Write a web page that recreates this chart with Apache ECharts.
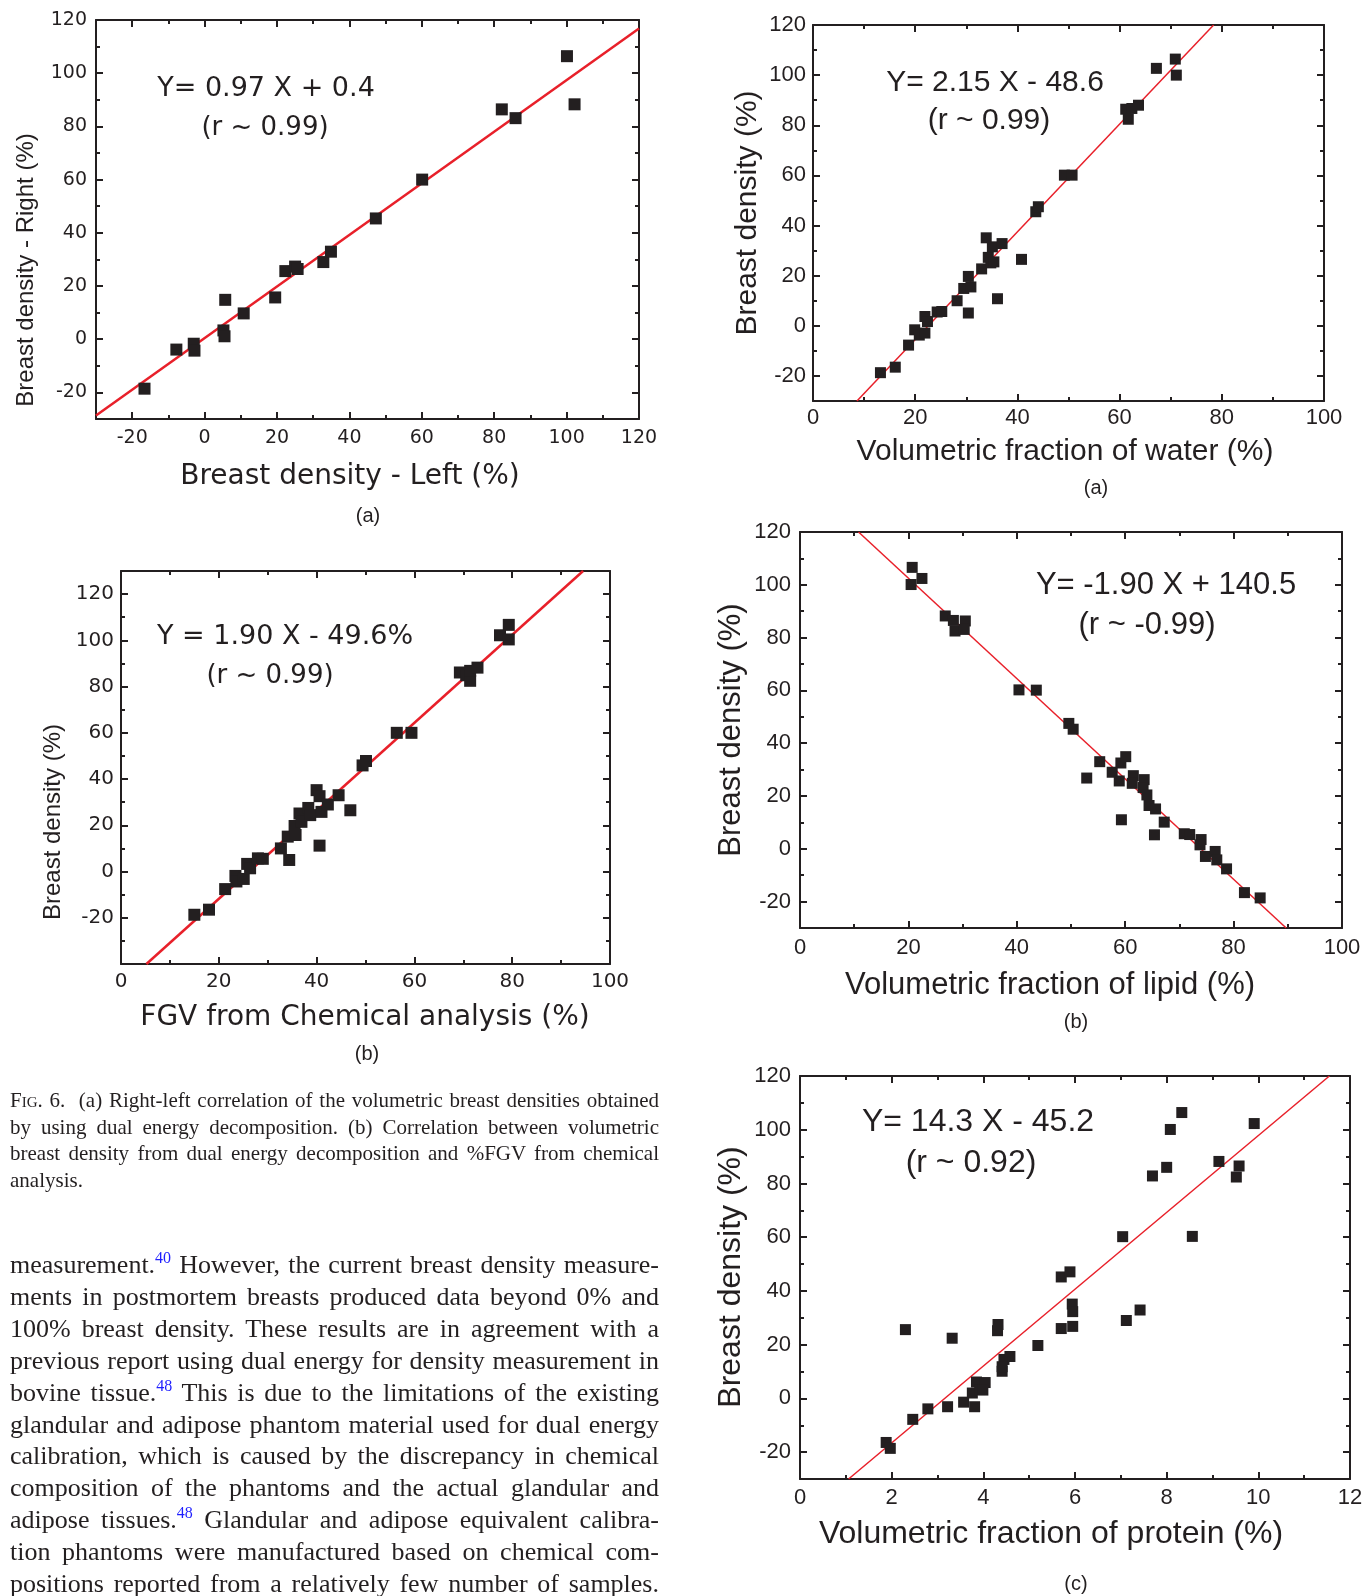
<!DOCTYPE html>
<html>
<head>
<meta charset="utf-8">
<script src="https://cdn.jsdelivr.net/npm/echarts@6/dist/echarts.min.js"></script>
<style>
  html, body { margin: 0; padding: 0; background: #fff; }
  #page { position: relative; width: 1362px; height: 1596px; overflow: hidden; }
  #chart { position: absolute; left: 0; top: 0; width: 1362px; height: 1596px; }
  .txt { position: absolute; left: 10px; width: 649px; color: #231f20; font-family: 'Liberation Serif', 'Times New Roman', serif; }
  .txt div { text-align: justify; text-align-last: justify; }
  .txt div.end { text-align-last: left; }
  #caption { top: 1087px; font-size: 21px; line-height: 26.7px; }
  #body { top: 1249px; font-size: 26px; line-height: 31.9px; }
  .sc { font-variant: small-caps; }
  sup { color: #1f1fff; font-size: 16px; line-height: 0; vertical-align: 0.6em; }
</style>
</head>
<body>
<div id="page">
  <div id="chart"></div>
  <div class="txt" id="caption">
    <div>F<span class="sc">ig</span>. 6.&nbsp; (a) Right-left correlation of the volumetric breast densities obtained</div>
    <div>by using dual energy decomposition. (b) Correlation between volumetric</div>
    <div>breast density from dual energy decomposition and %FGV from chemical</div>
    <div class="end">analysis.</div>
  </div>
  <div class="txt" id="body">
    <div>measurement.<sup>40</sup> However, the current breast density measure-</div>
    <div>ments in postmortem breasts produced data beyond 0% and</div>
    <div>100% breast density. These results are in agreement with a</div>
    <div>previous report using dual energy for density measurement in</div>
    <div>bovine tissue.<sup>48</sup> This is due to the limitations of the existing</div>
    <div>glandular and adipose phantom material used for dual energy</div>
    <div>calibration, which is caused by the discrepancy in chemical</div>
    <div>composition of the phantoms and the actual glandular and</div>
    <div>adipose tissues.<sup>48</sup> Glandular and adipose equivalent calibra-</div>
    <div>tion phantoms were manufactured based on chemical com-</div>
    <div>positions reported from a relatively few number of samples.</div>
  </div>
</div>
<script>
// ---- data ----

// (a) left : right / left breast density
var leftDensity  = [-16.6, -7.8, -3.0, -2.8, 5.2, 5.5, 5.7, 10.8, 19.5, 22.3, 25.0, 25.7, 32.8, 34.9, 47.3, 60.1, 82.1, 85.9, 100.1, 102.2];
var rightDensity = [-18.6, -3.9, -1.7, -4.3, 3.3, 1.1, 14.8, 9.7, 15.7, 25.6, 27.3, 26.4, 29.0, 32.9, 45.4, 60.0, 86.4, 83.1, 106.4, 88.3];
var fitLeft = [[-30, -28.7], [120, 116.8]];

// (b) left : FGV from chemical analysis
var fgvChem    = [15.0, 18.0, 21.3, 23.4, 23.6, 25.1, 25.8, 26.4, 28.0, 29.0, 32.7, 34.1, 35.5, 35.7, 34.4, 36.5, 36.9, 38.3, 38.7, 40.0, 40.6, 41.0, 42.3, 40.6, 44.5, 46.9, 49.4, 50.1, 56.4, 59.4, 69.3, 70.6, 71.4, 71.4, 72.9, 77.5, 79.3, 79.3];
var fgvDensity = [-18.7, -16.5, -7.6, -1.9, -4.3, -3.2, 3.3, 1.4, 5.7, 5.5, 10.0, 15.1, 19.7, 15.8, 5.0, 25.1, 21.5, 27.5, 24.4, 35.2, 32.6, 25.8, 29.0, 11.2, 33.0, 26.5, 45.9, 47.8, 60.0, 60.0, 86.1, 84.9, 82.5, 86.8, 88.2, 102.2, 106.7, 100.4];
var fitFgv = [[5.2, -40], [94.5, 130]];

// (a) right : water
var waterFrac    = [13.2, 16.1, 18.7, 19.9, 20.8, 21.9, 21.9, 22.4, 24.3, 25.2, 28.2, 29.5, 30.4, 30.9, 30.4, 33.0, 33.9, 34.3, 34.8, 35.1, 35.4, 36.1, 37.0, 40.8, 43.6, 44.1, 49.2, 50.7, 61.2, 61.7, 62.4, 63.7, 67.2, 70.9, 71.1];
var waterDensity = [-18.7, -16.5, -7.7, -1.6, -3.7, -2.9, 3.7, 1.7, 5.5, 5.7, 10.0, 14.9, 19.7, 15.5, 5.1, 22.7, 35.1, 27.3, 25.1, 31.5, 25.5, 10.8, 32.8, 26.5, 45.5, 47.5, 60.1, 60.1, 86.4, 82.4, 86.7, 88.0, 102.7, 106.4, 100.0];
var fitWater = [[8.6, -30], [78.4, 120]];

// (b) right : lipid
var lipidFrac    = [20.7, 20.5, 22.5, 26.8, 28.3, 28.6, 30.5, 30.3, 40.4, 43.6, 49.6, 50.4, 52.9, 55.3, 57.6, 58.9, 59.2, 60.1, 59.3, 61.5, 61.3, 63.5, 63.3, 64.0, 64.4, 65.6, 65.4, 67.2, 70.9, 71.9, 74.0, 73.8, 74.8, 76.6, 76.9, 78.7, 82.0, 84.9];
var lipidDensity = [106.6, 100.1, 102.4, 88.2, 86.5, 82.5, 86.3, 83.1, 60.2, 60.1, 47.5, 45.3, 26.8, 33.0, 29.0, 25.7, 32.5, 34.9, 11.0, 27.7, 24.8, 26.2, 23.2, 20.4, 16.4, 15.1, 5.3, 10.1, 5.7, 5.4, 3.5, 1.5, -2.9, -1.0, -4.2, -7.6, -16.6, -18.6];
var fitLipid = [[10.8, 120], [89.7, -30]];

// (c) right : protein
var proteinFrac    = [1.88, 1.97, 2.30, 2.46, 2.79, 3.22, 3.32, 3.57, 3.76, 3.81, 3.85, 3.92, 4.04, 3.99, 4.31, 4.32, 4.41, 4.45, 4.58, 4.41, 5.19, 5.70, 5.89, 5.70, 5.94, 5.95, 5.95, 7.04, 7.12, 7.42, 7.69, 8.00, 8.08, 8.33, 8.56, 9.14, 9.52, 9.58, 9.91];
var proteinDensity = [-16.4, -18.6, 25.6, -7.8, -3.9, -3.1, 22.4, -1.4, 2.0, -3.1, 6.1, 3.3, 5.9, 3.1, 25.2, 27.5, 10.1, 14.5, 15.6, 11.8, 19.7, 45.2, 47.1, 26.0, 35.1, 32.3, 26.8, 60.2, 29.0, 32.9, 82.8, 86.0, 100.1, 106.4, 60.3, 88.2, 82.4, 86.5, 102.3];
var fitProtein = [[1.06, -30], [11.55, 120]];

// tick values
var ticksWide   = [-20, 0, 20, 40, 60, 80, 100, 120];
var minorWide   = [-10, 10, 30, 50, 70, 90, 110];
var ticksPct    = [0, 20, 40, 60, 80, 100];
var minorPct    = [10, 30, 50, 70, 90];
var ticksDens   = [-20, 0, 20, 40, 60, 80, 100, 120];
var minorDens   = [-10, 10, 30, 50, 70, 90, 110];
var minorDensB  = [-30, -10, 10, 30, 50, 70, 90, 110];
var ticksProt   = [0, 2, 4, 6, 8, 10, 12];
var minorProt   = [1, 3, 5, 7, 9, 11];

var INK = '#231f20';
var RED = '#e8202a';
var WIDE = 'DejaVu Sans';
var ARIAL = 'Liberation Sans';

var grids = [], xAxes = [], yAxes = [], series = [], texts = [];

function zip(xs, ys) {
    var out = [];
    for (var i = 0; i < xs.length; i++) {
        out.push([xs[i], ys[i]]);
    }
    return out;
}

// one axis; major ones carry the frame line, minor ones only short ticks
function makeAxis(g, pos, ext, vals, len, label) {
    return {
        type: 'value', gridIndex: g, position: pos, min: ext[0], max: ext[1],
        splitLine: {show: false},
        axisLine: {show: len > 5, onZero: false, lineStyle: {color: INK, width: 2}},
        axisTick: {show: true, inside: true, length: len, customValues: vals, lineStyle: {color: INK, width: 2}},
        axisLabel: label ? {
            show: true, customValues: vals, margin: label.margin,
            fontFamily: label.font, fontSize: label.size, color: INK
        } : {show: false}
    };
}

function addPanel(p) {
    var g = grids.length;
    grids.push({left: p.box[0], top: p.box[1], width: p.box[2], height: p.box[3],
        containLabel: false, outerBoundsMode: 'none'});
    var base = xAxes.length;
    xAxes.push(makeAxis(g, 'bottom', p.xExt, p.xTicks, 7, {margin: p.xMargin, font: p.tickFont, size: p.tickSize}));
    xAxes.push(makeAxis(g, 'bottom', p.xExt, p.xMinor, 4));
    xAxes.push(makeAxis(g, 'top', p.xExt, p.xTicks, 7));
    xAxes.push(makeAxis(g, 'top', p.xExt, p.xMinor, 4));
    yAxes.push(makeAxis(g, 'left', p.yExt, p.yTicks, 7, {margin: p.yMargin, font: p.tickFont, size: p.tickSize}));
    yAxes.push(makeAxis(g, 'left', p.yExt, p.yMinor, 4));
    yAxes.push(makeAxis(g, 'right', p.yExt, p.yTicks, 7));
    yAxes.push(makeAxis(g, 'right', p.yExt, p.yMinor, 4));

    series.push({
        type: 'line', xAxisIndex: base, yAxisIndex: base, data: p.fit,
        symbol: 'none', silent: true, clip: true, z: 2,
        lineStyle: {color: RED, width: p.lineWidth}
    });
    series.push({
        type: 'scatter', xAxisIndex: base, yAxisIndex: base, data: zip(p.xs, p.ys),
        symbol: 'rect', symbolSize: p.sym, z: 3, silent: true,
        itemStyle: {color: INK, opacity: 1}
    });

    p.labels.forEach(function (t) {
        texts.push({
            type: 'text', x: t[1], y: t[2], rotation: t[5] ? Math.PI / 2 : 0, silent: true,
            style: {text: t[0], x: 0, y: 0, fill: INK, align: 'center', verticalAlign: 'middle',
                font: t[3] + 'px "' + t[4] + '"'}
        });
    });
}

// (a) left
addPanel({
    box: [96, 20, 543, 399], xExt: [-30, 120], yExt: [-30, 120],
    xTicks: ticksWide, xMinor: minorWide, yTicks: ticksDens, yMinor: minorDens,
    tickFont: WIDE, tickSize: 19, xMargin: 10, yMargin: 9,
    xs: leftDensity, ys: rightDensity, fit: fitLeft, sym: 12, lineWidth: 2.5,
    labels: [
        ['Y= 0.97 X + 0.4', 266, 89, 27, WIDE],
        ['(r ~ 0.99)', 265, 128, 26, WIDE],
        ['Breast density - Left (%)', 350, 477, 28, WIDE],
        ['Breast density - Right (%)', 26, 270, 24, ARIAL, true],
        ['(a)', 368, 516, 20, ARIAL]
    ]
});

// (b) left
addPanel({
    box: [121, 571, 489, 393], xExt: [0, 100], yExt: [-40, 130],
    xTicks: ticksPct, xMinor: minorPct, yTicks: ticksDens, yMinor: minorDensB,
    tickFont: WIDE, tickSize: 20, xMargin: 8, yMargin: 7,
    xs: fgvChem, ys: fgvDensity, fit: fitFgv, sym: 12, lineWidth: 2.5,
    labels: [
        ['Y = 1.90 X - 49.6%', 285, 637, 27, WIDE],
        ['(r ~ 0.99)', 270, 676, 26, WIDE],
        ['FGV from Chemical analysis (%)', 365, 1018, 28, WIDE],
        ['Breast density (%)', 53, 822, 24, ARIAL, true],
        ['(b)', 367, 1054, 20, ARIAL]
    ]
});

// (a) right
addPanel({
    box: [813, 25, 511, 376], xExt: [0, 100], yExt: [-30, 120],
    xTicks: ticksPct, xMinor: minorPct, yTicks: ticksDens, yMinor: minorDens,
    tickFont: ARIAL, tickSize: 22, xMargin: 6, yMargin: 7,
    xs: waterFrac, ys: waterDensity, fit: fitWater, sym: 11, lineWidth: 1.5,
    labels: [
        ['Y= 2.15 X - 48.6', 995, 83, 30, ARIAL],
        ['(r ~ 0.99)', 989, 121, 30, ARIAL],
        ['Volumetric fraction of water (%)', 1065, 452, 30, ARIAL],
        ['Breast density (%)', 748, 213, 30, ARIAL, true],
        ['(a)', 1096, 488, 20, ARIAL]
    ]
});

// (b) right
addPanel({
    box: [800, 532, 542, 396], xExt: [0, 100], yExt: [-30, 120],
    xTicks: ticksPct, xMinor: minorPct, yTicks: ticksDens, yMinor: minorDens,
    tickFont: ARIAL, tickSize: 22, xMargin: 9, yMargin: 9,
    xs: lipidFrac, ys: lipidDensity, fit: fitLipid, sym: 11, lineWidth: 1.5,
    labels: [
        ['Y= -1.90 X + 140.5', 1166, 585, 31, ARIAL],
        ['(r ~ -0.99)', 1147, 625, 31, ARIAL],
        ['Volumetric fraction of lipid (%)', 1050, 985, 31, ARIAL],
        ['Breast density (%)', 731, 730, 31, ARIAL, true],
        ['(b)', 1076, 1022, 20, ARIAL]
    ]
});

// (c) right
addPanel({
    box: [800, 1076, 550, 403], xExt: [0, 12], yExt: [-30, 120],
    xTicks: ticksProt, xMinor: minorProt, yTicks: ticksDens, yMinor: minorDens,
    tickFont: ARIAL, tickSize: 22, xMargin: 8, yMargin: 9,
    xs: proteinFrac, ys: proteinDensity, fit: fitProtein, sym: 11, lineWidth: 1.5,
    labels: [
        ['Y= 14.3 X - 45.2', 978, 1122, 32, ARIAL],
        ['(r ~ 0.92)', 971, 1163, 32, ARIAL],
        ['Volumetric fraction of protein (%)', 1051, 1534, 32, ARIAL],
        ['Breast density (%)', 731, 1277, 32, ARIAL, true],
        ['(c)', 1076, 1584, 20, ARIAL]
    ]
});

var chart = echarts.init(document.getElementById('chart'));
chart.setOption({
    animation: false,
    backgroundColor: '#fff',
    grid: grids,
    xAxis: xAxes,
    yAxis: yAxes,
    series: series,
    graphic: texts
});
</script>
</body>
</html>
